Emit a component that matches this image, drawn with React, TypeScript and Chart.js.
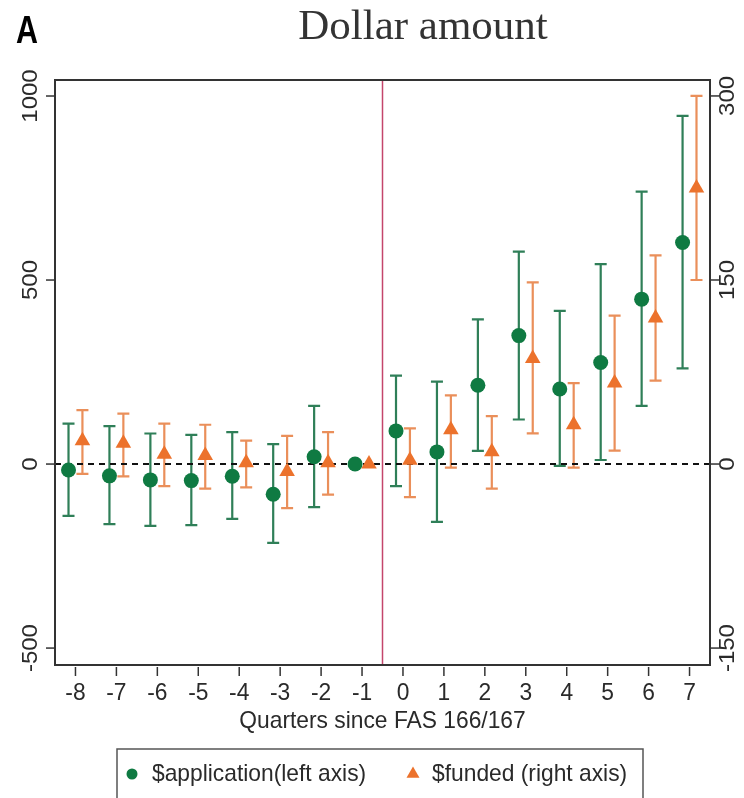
import React, { useEffect, useRef } from "react";
import { Chart, registerables } from "chart.js";

Chart.register(...registerables);

// ---------- data ----------
const quarters = [-8, -7, -6, -5, -4, -3, -2, -1, 0, 1, 2, 3, 4, 5, 6, 7];
const xTickLabels = ["-8", "-7", "-6", "-5", "-4", "-3", "-2", "-1", "0", "1", "2", "3", "4", "5", "6", "7"];

// $application (left axis)
const appEst = [-16, -32, -43, -45, -33, -82, 20, 0, 90, 33, 214, 349, 204, 276, 448, 602];
const appLo = [-141, -163, -168, -166, -149, -214, -117, null, -60, -157, 36, 121, -5, 11, 158, 260];
const appHi = [110, 103, 83, 79, 87, 54, 158, null, 240, 224, 393, 577, 416, 543, 740, 946];

// $funded (right axis)
const fundEst = [19, 17, 8, 7, 1, -6, 1, 0, 3, 28, 10, 86, 32, 66, 119, 225];
const fundLo = [-8, -10, -18, -20, -19, -36, -25, null, -27, -3, -20, 25, -3, 11, 68, 150];
const fundHi = [44, 41, 33, 32, 19, 23, 26, null, 29, 56, 39, 148, 66, 121, 170, 300];

const leftTicks = [-500, 0, 500, 1000];
const rightTicks = [-150, 0, 150, 300];

const LEFT_MIN = -546;
const LEFT_MAX = 1043.5;
const RIGHT_MIN = -163.8;
const RIGHT_MAX = 313;
const CUTOFF = -0.5;

const titleText = "Dollar amount";
const panelLabel = "A";
const xAxisTitle = "Quarters since FAS 166/167";
const appLabel = "$application(left axis)";
const fundLabel = "$funded (right axis)";

// ---------- styles ----------
const GREEN_PT = "#0f7a42";
const GREEN_BAR = "#2f7f58";
const ORANGE_PT = "#ec722c";
const ORANGE_BAR = "#ea8f5a";
const DODGE = 0.17;
const SANS = "Liberation Sans, Arial, sans-serif";
const SERIF = "Liberation Serif, Times New Roman, serif";
const SQUEEZE = 0.95;

function drawText(
  ctx: CanvasRenderingContext2D,
  text: string,
  x: number,
  y: number,
  font: string,
  color: string,
  align: CanvasTextAlign,
  sx: number,
  rotate = false
) {
  ctx.save();
  ctx.translate(x, y);
  if (rotate) {
    ctx.rotate(-Math.PI / 2);
    ctx.scale(1, sx);
  } else {
    ctx.scale(sx, 1);
  }
  ctx.font = font;
  ctx.fillStyle = color;
  ctx.textAlign = align;
  ctx.textBaseline = "alphabetic";
  ctx.fillText(text, 0, 0);
  ctx.restore();
}

const overlayPlugin = {
  id: "overlay",
  beforeDatasetsDraw(chart: any) {
    const { ctx, chartArea: a, scales } = chart;
    const xs = scales.x;
    const ys = scales.y;
    const ys2 = scales.y2;
    ctx.save();

    // vertical cutoff line
    const rx = xs.getPixelForValue(CUTOFF);
    ctx.strokeStyle = "#c4456b";
    ctx.lineWidth = 1.5;
    ctx.beginPath();
    ctx.moveTo(rx, a.top);
    ctx.lineTo(rx, a.bottom);
    ctx.stroke();

    // error bars
    const bars = (lo: (number | null)[], hi: (number | null)[], dx: number, scale: any, color: string) => {
      ctx.strokeStyle = color;
      ctx.lineWidth = 2.2;
      quarters.forEach((q, i) => {
        const l = lo[i];
        const h = hi[i];
        if (l === null || h === null) return;
        const px = xs.getPixelForValue(q + dx);
        const pl = scale.getPixelForValue(l);
        const ph = scale.getPixelForValue(h);
        ctx.beginPath();
        ctx.moveTo(px, pl);
        ctx.lineTo(px, ph);
        ctx.moveTo(px - 6, pl);
        ctx.lineTo(px + 6, pl);
        ctx.moveTo(px - 6, ph);
        ctx.lineTo(px + 6, ph);
        ctx.stroke();
      });
    };
    bars(appLo, appHi, -DODGE, ys, GREEN_BAR);
    bars(fundLo, fundHi, DODGE, ys2, ORANGE_BAR);

    // zero dashed line
    const zy = ys.getPixelForValue(0);
    ctx.setLineDash([6, 5]);
    ctx.strokeStyle = "#111";
    ctx.lineWidth = 2;
    ctx.beginPath();
    ctx.moveTo(a.left, zy);
    ctx.lineTo(a.right, zy);
    ctx.stroke();
    ctx.setLineDash([]);
    ctx.restore();
  },
  afterDraw(chart: any) {
    const { ctx, chartArea: a, scales } = chart;
    const xs = scales.x;
    const ys = scales.y;
    const ys2 = scales.y2;
    ctx.save();

    // frame
    ctx.strokeStyle = "#333";
    ctx.lineWidth = 2;
    ctx.strokeRect(a.left, a.top, a.right - a.left, a.bottom - a.top);

    const tickFont = `24px ${SANS}`;
    const txtColor = "#2a2a2a";

    // x ticks and labels
    ctx.lineWidth = 1.5;
    ctx.strokeStyle = "#333";
    quarters.forEach((q, i) => {
      const px = xs.getPixelForValue(q);
      ctx.beginPath();
      ctx.moveTo(px, a.bottom + 2);
      ctx.lineTo(px, a.bottom + 11);
      ctx.stroke();
      drawText(ctx, xTickLabels[i], px, a.bottom + 35, tickFont, txtColor, "center", SQUEEZE);
    });

    // left ticks
    leftTicks.forEach((v) => {
      const py = ys.getPixelForValue(v);
      ctx.beginPath();
      ctx.moveTo(a.left - 9, py);
      ctx.lineTo(a.left, py);
      ctx.stroke();
      drawText(ctx, String(v), a.left - 18, py, tickFont, txtColor, "center", SQUEEZE, true);
    });

    // right ticks
    rightTicks.forEach((v) => {
      const py = ys2.getPixelForValue(v);
      ctx.beginPath();
      ctx.moveTo(a.right, py);
      ctx.lineTo(a.right + 9, py);
      ctx.stroke();
      drawText(ctx, String(v), a.right + 24, py, tickFont, txtColor, "center", SQUEEZE, true);
    });

    // x axis title
    drawText(ctx, xAxisTitle, (a.left + a.right) / 2, a.bottom + 63, tickFont, txtColor, "center", SQUEEZE);

    // title + panel label
    drawText(ctx, titleText, 423, 39, `43px ${SERIF}`, "#333", "center", 1);
    drawText(ctx, panelLabel, 16, 43, `bold 39px ${SANS}`, "#000", "left", 0.78);

    // legend box
    ctx.strokeStyle = "#555";
    ctx.lineWidth = 1.5;
    ctx.strokeRect(117, 749, 526, 60);
    ctx.fillStyle = GREEN_PT;
    ctx.beginPath();
    ctx.arc(132, 774, 5.5, 0, Math.PI * 2);
    ctx.fill();
    drawText(ctx, appLabel, 152, 781, tickFont, txtColor, "left", SQUEEZE);
    ctx.fillStyle = ORANGE_PT;
    const tr = 7.5;
    ctx.beginPath();
    ctx.moveTo(413, 774 - tr);
    ctx.lineTo(413 + tr * 0.866, 774 + tr / 2);
    ctx.lineTo(413 - tr * 0.866, 774 + tr / 2);
    ctx.closePath();
    ctx.fill();
    drawText(ctx, fundLabel, 432, 781, tickFont, txtColor, "left", SQUEEZE);

    ctx.restore();
  },
};

export default function App() {
  const canvasRef = useRef<HTMLCanvasElement | null>(null);

  useEffect(() => {
    if (!canvasRef.current) return;
    const chart = new Chart(canvasRef.current, {
      type: "scatter",
      data: {
        datasets: [
          {
            label: appLabel,
            data: quarters.map((q, i) => ({ x: q - DODGE, y: appEst[i] })),
            yAxisID: "y",
            pointStyle: "circle",
            pointRadius: 7.5,
            backgroundColor: GREEN_PT,
            borderWidth: 0,
          },
          {
            label: fundLabel,
            data: quarters.map((q, i) => ({ x: q + DODGE, y: fundEst[i] })),
            yAxisID: "y2",
            pointStyle: "triangle",
            pointRadius: 9,
            backgroundColor: ORANGE_PT,
            borderWidth: 0,
          },
        ],
      },
      options: {
        animation: false,
        responsive: true,
        maintainAspectRatio: false,
        events: [],
        layout: { padding: { top: 80, left: 0, right: 0, bottom: 0 } },
        plugins: {
          legend: { display: false },
          tooltip: { enabled: false },
          title: { display: false },
        },
        scales: {
          x: {
            type: "linear",
            position: "bottom",
            min: -8.5,
            max: 7.5,
            grid: { display: false },
            border: { display: false },
            ticks: { display: false },
            afterFit: (s: any) => {
              s.height = 133;
            },
          },
          y: {
            type: "linear",
            position: "left",
            min: LEFT_MIN,
            max: LEFT_MAX,
            grid: { display: false },
            border: { display: false },
            ticks: { display: false },
            afterFit: (s: any) => {
              s.width = 55;
            },
          },
          y2: {
            type: "linear",
            position: "right",
            min: RIGHT_MIN,
            max: RIGHT_MAX,
            grid: { display: false },
            border: { display: false },
            ticks: { display: false },
            afterFit: (s: any) => {
              s.width = 34;
            },
          },
        },
      },
      plugins: [overlayPlugin],
    });
    return () => chart.destroy();
  }, []);

  return (
    <div style={{ position: "fixed", left: 0, top: 0, width: 744, height: 798, background: "#fff" }}>
      <canvas ref={canvasRef} />
    </div>
  );
}
